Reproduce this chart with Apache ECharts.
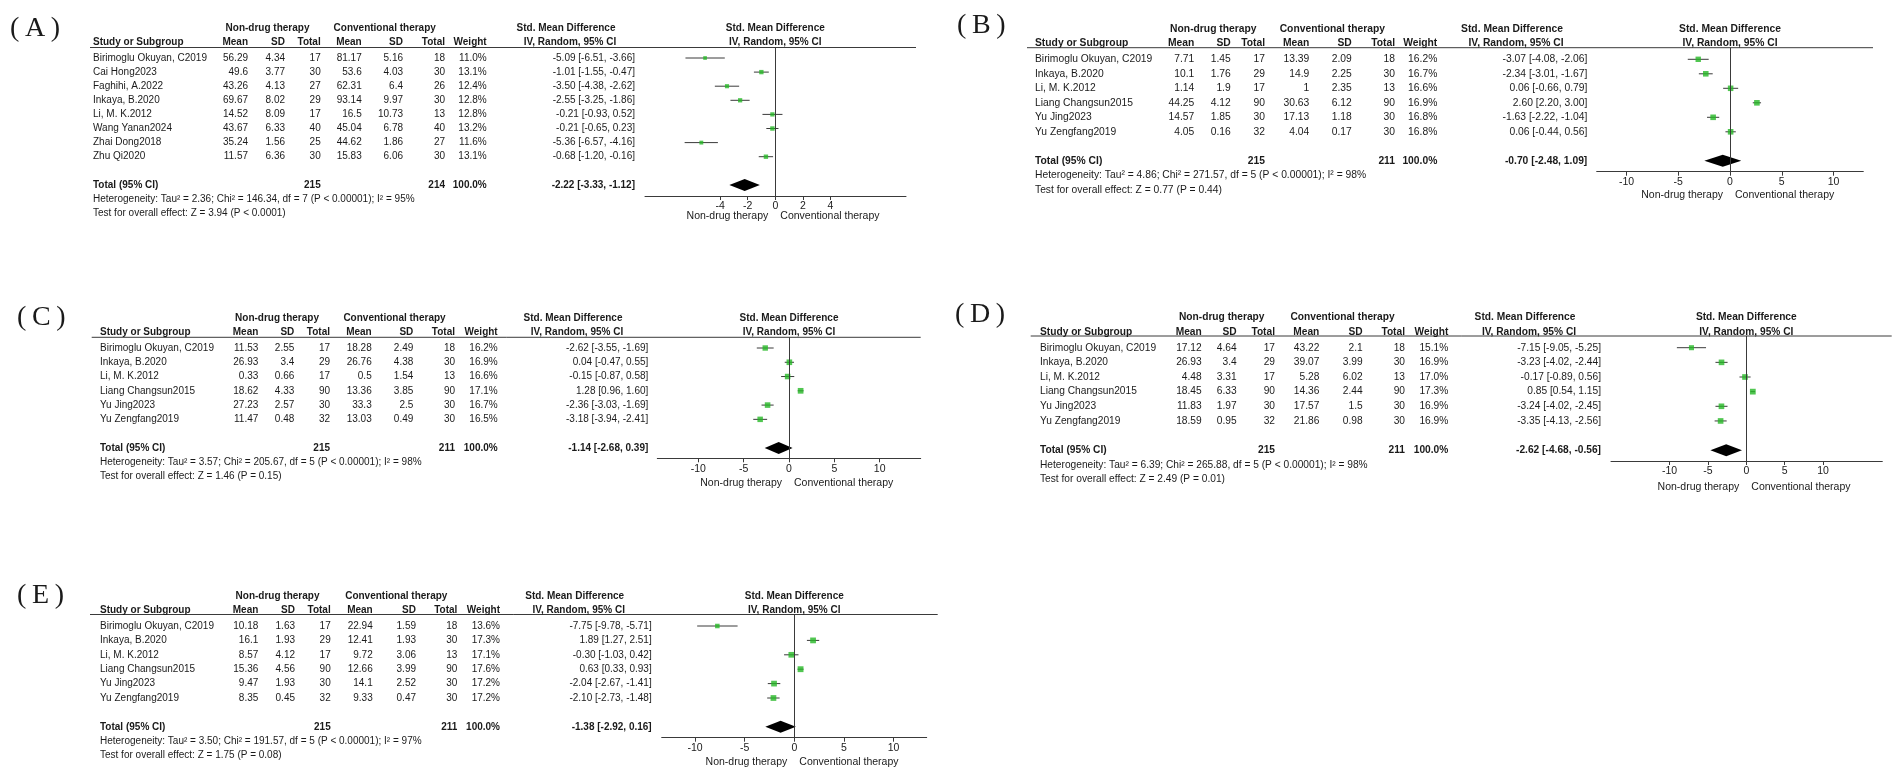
<!DOCTYPE html>
<html><head><meta charset="utf-8">
<script src="https://cdn.jsdelivr.net/npm/echarts@6/dist/echarts.min.js"></script>
<style>html,body{margin:0;padding:0;background:#fff}#c{width:1902px;height:779px}</style>
</head><body><div id="c"></div><script>
// ---------------- Panel A ----------------
const A_studies = ['Birimoglu Okuyan, C2019','Cai Hong2023','Faghihi, A.2022','Inkaya, B.2020','Li, M. K.2012','Wang Yanan2024','Zhai Dong2018','Zhu Qi2020'];
const A_ndtMean = [56.29, 49.6, 43.26, 69.67, 14.52, 43.67, 35.24, 11.57];
const A_ndtSD   = [4.34, 3.77, 4.13, 8.02, 8.09, 6.33, 1.56, 6.36];
const A_ndtN    = [17, 30, 27, 29, 17, 40, 25, 30];
const A_ctMean  = [81.17, 53.6, 62.31, 93.14, 16.5, 45.04, 44.62, 15.83];
const A_ctSD    = [5.16, 4.03, 6.4, 9.97, 10.73, 6.78, 1.86, 6.06];
const A_ctN     = [18, 30, 26, 30, 13, 40, 27, 30];
const A_weight  = [11.0, 13.1, 12.4, 12.8, 12.8, 13.2, 11.6, 13.1];
const A_smd     = [-5.09, -1.01, -3.50, -2.55, -0.21, -0.21, -5.36, -0.68];
const A_lo      = [-6.51, -1.55, -4.38, -3.25, -0.93, -0.65, -6.57, -1.20];
const A_hi      = [-3.66, -0.47, -2.62, -1.86, 0.52, 0.23, -4.16, -0.16];
const A_totals  = [215, 214];
const A_overall = [-2.22, -3.33, -1.12];
const A_ticks   = [-4, -2, 0, 2, 4];
const A_het  = 'Heterogeneity: Tau² = 2.36; Chi² = 146.34, df = 7 (P < 0.00001); I² = 95%';
const A_test = 'Test for overall effect: Z = 3.94 (P < 0.0001)';

// ---------------- Panel B ----------------
const B_studies = ['Birimoglu Okuyan, C2019','Inkaya, B.2020','Li, M. K.2012','Liang Changsun2015','Yu Jing2023','Yu Zengfang2019'];
const B_ndtMean = [7.71, 10.1, 1.14, 44.25, 14.57, 4.05];
const B_ndtSD   = [1.45, 1.76, 1.9, 4.12, 1.85, 0.16];
const B_ndtN    = [17, 29, 17, 90, 30, 32];
const B_ctMean  = [13.39, 14.9, 1, 30.63, 17.13, 4.04];
const B_ctSD    = [2.09, 2.25, 2.35, 6.12, 1.18, 0.17];
const B_ctN     = [18, 30, 13, 90, 30, 30];
const B_weight  = [16.2, 16.7, 16.6, 16.9, 16.8, 16.8];
const B_smd     = [-3.07, -2.34, 0.06, 2.60, -1.63, 0.06];
const B_lo      = [-4.08, -3.01, -0.66, 2.20, -2.22, -0.44];
const B_hi      = [-2.06, -1.67, 0.79, 3.00, -1.04, 0.56];
const B_totals  = [215, 211];
const B_overall = [-0.70, -2.48, 1.09];
const B_ticks   = [-10, -5, 0, 5, 10];
const B_het  = 'Heterogeneity: Tau² = 4.86; Chi² = 271.57, df = 5 (P < 0.00001); I² = 98%';
const B_test = 'Test for overall effect: Z = 0.77 (P = 0.44)';

// ---------------- Panel C ----------------
const C_studies = ['Birimoglu Okuyan, C2019','Inkaya, B.2020','Li, M. K.2012','Liang Changsun2015','Yu Jing2023','Yu Zengfang2019'];
const C_ndtMean = [11.53, 26.93, 0.33, 18.62, 27.23, 11.47];
const C_ndtSD   = [2.55, 3.4, 0.66, 4.33, 2.57, 0.48];
const C_ndtN    = [17, 29, 17, 90, 30, 32];
const C_ctMean  = [18.28, 26.76, 0.5, 13.36, 33.3, 13.03];
const C_ctSD    = [2.49, 4.38, 1.54, 3.85, 2.5, 0.49];
const C_ctN     = [18, 30, 13, 90, 30, 30];
const C_weight  = [16.2, 16.9, 16.6, 17.1, 16.7, 16.5];
const C_smd     = [-2.62, 0.04, -0.15, 1.28, -2.36, -3.18];
const C_lo      = [-3.55, -0.47, -0.87, 0.96, -3.03, -3.94];
const C_hi      = [-1.69, 0.55, 0.58, 1.60, -1.69, -2.41];
const C_totals  = [215, 211];
const C_overall = [-1.14, -2.68, 0.39];
const C_ticks   = [-10, -5, 0, 5, 10];
const C_het  = 'Heterogeneity: Tau² = 3.57; Chi² = 205.67, df = 5 (P < 0.00001); I² = 98%';
const C_test = 'Test for overall effect: Z = 1.46 (P = 0.15)';

// ---------------- Panel D ----------------
const D_studies = ['Birimoglu Okuyan, C2019','Inkaya, B.2020','Li, M. K.2012','Liang Changsun2015','Yu Jing2023','Yu Zengfang2019'];
const D_ndtMean = [17.12, 26.93, 4.48, 18.45, 11.83, 18.59];
const D_ndtSD   = [4.64, 3.4, 3.31, 6.33, 1.97, 0.95];
const D_ndtN    = [17, 29, 17, 90, 30, 32];
const D_ctMean  = [43.22, 39.07, 5.28, 14.36, 17.57, 21.86];
const D_ctSD    = [2.1, 3.99, 6.02, 2.44, 1.5, 0.98];
const D_ctN     = [18, 30, 13, 90, 30, 30];
const D_weight  = [15.1, 16.9, 17.0, 17.3, 16.9, 16.9];
const D_smd     = [-7.15, -3.23, -0.17, 0.85, -3.24, -3.35];
const D_lo      = [-9.05, -4.02, -0.89, 0.54, -4.02, -4.13];
const D_hi      = [-5.25, -2.44, 0.56, 1.15, -2.45, -2.56];
const D_totals  = [215, 211];
const D_overall = [-2.62, -4.68, -0.56];
const D_ticks   = [-10, -5, 0, 5, 10];
const D_het  = 'Heterogeneity: Tau² = 6.39; Chi² = 265.88, df = 5 (P < 0.00001); I² = 98%';
const D_test = 'Test for overall effect: Z = 2.49 (P = 0.01)';

// ---------------- Panel E ----------------
const E_studies = ['Birimoglu Okuyan, C2019','Inkaya, B.2020','Li, M. K.2012','Liang Changsun2015','Yu Jing2023','Yu Zengfang2019'];
const E_ndtMean = [10.18, 16.1, 8.57, 15.36, 9.47, 8.35];
const E_ndtSD   = [1.63, 1.93, 4.12, 4.56, 1.93, 0.45];
const E_ndtN    = [17, 29, 17, 90, 30, 32];
const E_ctMean  = [22.94, 12.41, 9.72, 12.66, 14.1, 9.33];
const E_ctSD    = [1.59, 1.93, 3.06, 3.99, 2.52, 0.47];
const E_ctN     = [18, 30, 13, 90, 30, 30];
const E_weight  = [13.6, 17.3, 17.1, 17.6, 17.2, 17.2];
const E_smd     = [-7.75, 1.89, -0.30, 0.63, -2.04, -2.10];
const E_lo      = [-9.78, 1.27, -1.03, 0.33, -2.67, -2.73];
const E_hi      = [-5.71, 2.51, 0.42, 0.93, -1.41, -1.48];
const E_totals  = [215, 211];
const E_overall = [-1.38, -2.92, 0.16];
const E_ticks   = [-10, -5, 0, 5, 10];
const E_het  = 'Heterogeneity: Tau² = 3.50; Chi² = 191.57, df = 5 (P < 0.00001); I² = 97%';
const E_test = 'Test for overall effect: Z = 1.75 (P = 0.08)';

// ---------------- layout (pixels) ----------------
const LAYOUT_A = {labelX:10, labelY:29, lineL:90, lineR:916, lineY:47.5, axisL:645, axisR:906, axisY:196, zeroX:775.3, unit:13.8, rowY0:58, dy:14.1, studyX:93, cols:[248,285,320.7,361.7,403,445,486.7,635], grpNdt:267.5, grpCt:384.7, hdr1Y:28.3, hdr2Y:42.3, smdHdr:566, botY:216, font:10};
const LAYOUT_B = {labelX:957, labelY:26, lineL:1027, lineR:1873, lineY:47.7, axisL:1596.7, axisR:1863.3, axisY:171.7, zeroX:1730, unit:10.35, rowY0:59.3, dy:14.5, studyX:1035, cols:[1194.3,1230.7,1265,1309.3,1351.7,1395,1437.3,1587.3], grpNdt:1213.3, grpCt:1332.3, hdr1Y:29.3, hdr2Y:43.3, smdHdr:1512, botY:195, font:10.3};
const LAYOUT_C = {labelX:17, labelY:318, lineL:91.7, lineR:920.7, lineY:337.3, axisL:657.3, axisR:920.7, axisY:458.3, zeroX:789, unit:9.07, rowY0:348, dy:14.27, studyX:100, cols:[258.3,294.3,330,371.7,413.3,455,497.7,648.3], grpNdt:277, grpCt:394.5, hdr1Y:318.3, hdr2Y:332.3, smdHdr:573, botY:483, font:10};
const LAYOUT_D = {labelX:955, labelY:315, lineL:1030.7, lineR:1891.7, lineY:336, axisL:1611, axisR:1882.3, axisY:461, zeroX:1746.3, unit:7.67, rowY0:347.7, dy:14.65, studyX:1040, cols:[1201.7,1236.7,1275,1319.3,1362.7,1405,1448.3,1601], grpNdt:1221.7, grpCt:1342.5, hdr1Y:316.7, hdr2Y:332.3, smdHdr:1525, botY:486.7, font:10.2};
const LAYOUT_E = {labelX:17, labelY:596, lineL:90, lineR:937.7, lineY:614.5, axisL:661.7, axisR:926.7, axisY:737.7, zeroX:794.3, unit:9.93, rowY0:626, dy:14.4, studyX:100, cols:[258.3,295,330.7,372.7,416,457.3,500,651.7], grpNdt:277.5, grpCt:396.3, hdr1Y:596, hdr2Y:610.5, smdHdr:574.7, botY:761.7, font:10};

const FONT = '"Liberation Sans", Arial, Helvetica, sans-serif';
const SERIF = '"Liberation Serif", "Times New Roman", serif';
const TXT = '#1a1a1a';
const LINE = '#3a3a3a';
const GREEN = '#26b826';

const panels = [
  {tag:'A', studies:A_studies, ndtMean:A_ndtMean, ndtSD:A_ndtSD, ndtN:A_ndtN, ctMean:A_ctMean, ctSD:A_ctSD, ctN:A_ctN, weight:A_weight, smd:A_smd, lo:A_lo, hi:A_hi, totals:A_totals, overall:A_overall, ticks:A_ticks, het:A_het, test:A_test, L:LAYOUT_A},
  {tag:'B', studies:B_studies, ndtMean:B_ndtMean, ndtSD:B_ndtSD, ndtN:B_ndtN, ctMean:B_ctMean, ctSD:B_ctSD, ctN:B_ctN, weight:B_weight, smd:B_smd, lo:B_lo, hi:B_hi, totals:B_totals, overall:B_overall, ticks:B_ticks, het:B_het, test:B_test, L:LAYOUT_B},
  {tag:'C', studies:C_studies, ndtMean:C_ndtMean, ndtSD:C_ndtSD, ndtN:C_ndtN, ctMean:C_ctMean, ctSD:C_ctSD, ctN:C_ctN, weight:C_weight, smd:C_smd, lo:C_lo, hi:C_hi, totals:C_totals, overall:C_overall, ticks:C_ticks, het:C_het, test:C_test, L:LAYOUT_C},
  {tag:'D', studies:D_studies, ndtMean:D_ndtMean, ndtSD:D_ndtSD, ndtN:D_ndtN, ctMean:D_ctMean, ctSD:D_ctSD, ctN:D_ctN, weight:D_weight, smd:D_smd, lo:D_lo, hi:D_hi, totals:D_totals, overall:D_overall, ticks:D_ticks, het:D_het, test:D_test, L:LAYOUT_D},
  {tag:'E', studies:E_studies, ndtMean:E_ndtMean, ndtSD:E_ndtSD, ndtN:E_ndtN, ctMean:E_ctMean, ctSD:E_ctSD, ctN:E_ctN, weight:E_weight, smd:E_smd, lo:E_lo, hi:E_hi, totals:E_totals, overall:E_overall, ticks:E_ticks, het:E_het, test:E_test, L:LAYOUT_E}
];

const f2 = v => v.toFixed(2);
const effText = (e, l, h) => f2(e) + ' [' + f2(l) + ', ' + f2(h) + ']';
const fontStr = (size, bold) => (bold ? 'bold ' : '') + size + 'px ' + FONT;

function gText(text, x, y, size, align, bold, family) {
  return {type:'text', x:x, y:y, silent:true, z:10,
    style:{text:text, font:(bold ? 'bold ' : '') + size + 'px ' + (family || FONT), fill:TXT,
      textAlign:align, textVerticalAlign:'middle', align:align, verticalAlign:'middle'}};
}

const grid = [], xAxis = [], yAxis = [], series = [], graphic = [];

panels.forEach((p, gi) => {
  const L = p.L, n = p.studies.length;
  const totalRow = n + 1;
  grid.push({left:L.axisL, top:L.lineY, width:L.axisR - L.axisL, height:L.axisY - L.lineY, containLabel:false});
  xAxis.push({type:'value', gridIndex:gi,
    min:(L.axisL - L.zeroX) / L.unit, max:(L.axisR - L.zeroX) / L.unit,
    axisLine:{show:true, onZero:false, lineStyle:{color:LINE, width:1}},
    axisTick:{show:true, customValues:p.ticks, length:4, lineStyle:{color:LINE, width:1}},
    axisLabel:{show:true, customValues:p.ticks, margin:5, fontSize:10.5, fontFamily:FONT, color:TXT, formatter:v => String(v)},
    splitLine:{show:false}});
  yAxis.push({type:'value', gridIndex:gi, show:false, inverse:true,
    min:(L.lineY - L.rowY0) / L.dy, max:(L.axisY - L.rowY0) / L.dy, splitLine:{show:false}});

  // CI whiskers
  series.push({type:'custom', xAxisIndex:gi, yAxisIndex:gi, silent:true, clip:false, z:3, animation:false,
    data:p.smd.map((v, i) => [p.lo[i], p.hi[i], i]),
    renderItem:(params, api) => {
      const a = api.coord([api.value(0), api.value(2)]);
      const b = api.coord([api.value(1), api.value(2)]);
      return {type:'line', shape:{x1:a[0], y1:a[1], x2:b[0], y2:b[1]}, style:{stroke:LINE, lineWidth:1}};
    }});
  // point estimates
  series.push({type:'scatter', xAxisIndex:gi, yAxisIndex:gi, silent:true, z:4, animation:false, symbol:'rect',
    data:p.smd.map((v, i) => ({value:[v, i], symbolSize:p.weight[i] / 3})),
    itemStyle:{color:GREEN},
    markLine:{silent:true, animation:false, symbol:['none', 'none'], label:{show:false},
      lineStyle:{color:LINE, type:'solid', width:1}, data:[{xAxis:0}]}});
  // pooled diamond
  series.push({type:'custom', xAxisIndex:gi, yAxisIndex:gi, silent:true, clip:false, z:4, animation:false,
    data:[[p.overall[1], p.overall[0], p.overall[2], totalRow]],
    renderItem:(params, api) => {
      const y = api.value(3);
      const l = api.coord([api.value(0), y]), c = api.coord([api.value(1), y]), r = api.coord([api.value(2), y]);
      const h = 6;
      return {type:'polygon', shape:{points:[[l[0], l[1]], [c[0], c[1] - h], [r[0], r[1]], [c[0], c[1] + h]]}, style:{fill:'#000'}};
    }});
  // table rows
  const rows = p.studies.map((s, i) => [0, i]);
  rows.push([0, totalRow]);
  series.push({type:'custom', xAxisIndex:gi, yAxisIndex:gi, silent:true, clip:false, z:5, animation:false,
    data:rows,
    renderItem:(params, api) => {
      const idx = params.dataIndex;
      const y = api.coord([0, api.value(1)])[1];
      const kids = [];
      const T = (text, x, align, bold) => kids.push({type:'text', style:{text:String(text), x:x, y:y,
        font:fontStr(L.font, bold), fill:TXT, align:align, verticalAlign:'middle', textAlign:align, textVerticalAlign:'middle'}});
      const C = L.cols;
      if (idx < n) {
        T(p.studies[idx], L.studyX, 'left', false);
        T(p.ndtMean[idx], C[0], 'right', false);
        T(p.ndtSD[idx], C[1], 'right', false);
        T(p.ndtN[idx], C[2], 'right', false);
        T(p.ctMean[idx], C[3], 'right', false);
        T(p.ctSD[idx], C[4], 'right', false);
        T(p.ctN[idx], C[5], 'right', false);
        T(p.weight[idx].toFixed(1) + '%', C[6], 'right', false);
        T(effText(p.smd[idx], p.lo[idx], p.hi[idx]), C[7], 'right', false);
      } else {
        T('Total (95% CI)', L.studyX, 'left', true);
        T(p.totals[0], C[2], 'right', true);
        T(p.totals[1], C[5], 'right', true);
        T('100.0%', C[6], 'right', true);
        T(effText(p.overall[0], p.overall[1], p.overall[2]), C[7], 'right', true);
      }
      return {type:'group', children:kids};
    }});

  // static graphics: panel label, headers, lines, footers
  graphic.push(gText('(\u2009' + p.tag + '\u2009)', L.labelX, L.labelY, 28, 'left', false, SERIF));
  graphic.push({type:'line', silent:true, z:9, shape:{x1:L.lineL, y1:L.lineY, x2:L.lineR, y2:L.lineY}, style:{stroke:LINE, lineWidth:1}});
  const fs = L.font, C = L.cols;
  graphic.push(gText('Non-drug therapy', L.grpNdt, L.hdr1Y, fs, 'center', true));
  graphic.push(gText('Conventional therapy', L.grpCt, L.hdr1Y, fs, 'center', true));
  graphic.push(gText('Std. Mean Difference', L.smdHdr, L.hdr1Y, fs, 'center', true));
  graphic.push(gText('Std. Mean Difference', L.zeroX, L.hdr1Y, fs, 'center', true));
  graphic.push(gText('Study or Subgroup', L.studyX, L.hdr2Y, fs, 'left', true));
  ['Mean', 'SD', 'Total', 'Mean', 'SD', 'Total', 'Weight'].forEach((h, k) => graphic.push(gText(h, C[k], L.hdr2Y, fs, 'right', true)));
  graphic.push(gText('IV, Random, 95% CI', L.smdHdr + 4, L.hdr2Y, fs, 'center', true));
  graphic.push(gText('IV, Random, 95% CI', L.zeroX, L.hdr2Y, fs, 'center', true));
  graphic.push(gText(p.het, L.studyX, L.rowY0 + (n + 2) * L.dy, fs, 'left', false));
  graphic.push(gText(p.test, L.studyX, L.rowY0 + (n + 3) * L.dy, fs, 'left', false));
  graphic.push(gText('Non-drug therapy', L.zeroX - 7, L.botY, 10.5, 'right', false));
  graphic.push(gText('Conventional therapy', L.zeroX + 5, L.botY, 10.5, 'left', false));
});

const chart = echarts.init(document.getElementById('c'), null, {renderer:'canvas'});
chart.setOption({animation:false, backgroundColor:'#ffffff', grid, xAxis, yAxis, series, graphic});
</script></body></html>
